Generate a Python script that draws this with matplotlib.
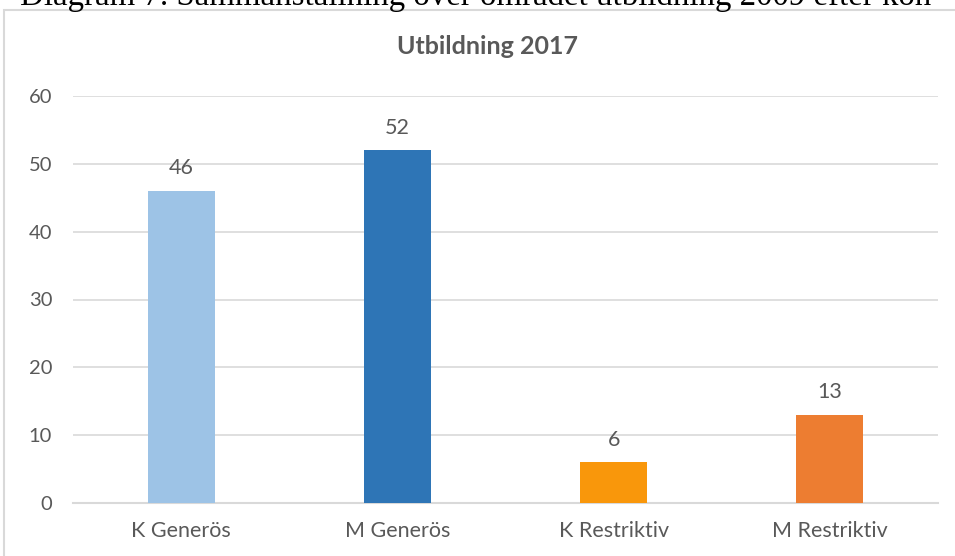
import matplotlib
matplotlib.use("Agg")
import matplotlib.pyplot as plt
from matplotlib.patches import Rectangle

categories = ["K Generös", "M Generös", "K Restriktiv", "M Restriktiv"]
values = [46, 52, 6, 13]
colors = ["#9DC3E6", "#2E75B6", "#F9970B", "#ED7D31"]
yticks = [0, 10, 20, 30, 40, 50, 60]
title = "Utbildning 2017"
caption = "Diagram 7. Sammanställning över området utbildning 2009 efter kön"

W, H = 955, 556
fig = plt.figure(figsize=(W / 100, H / 100), dpi=100)
ax = fig.add_axes([73 / W, 53 / H, (938 - 73) / W, (503 - 96) / H])

x = list(range(len(categories)))
bars = ax.bar(x, values, width=0.31, color=colors, zorder=3)
ax.set_xlim(-0.5, len(categories) - 0.5)
ax.set_ylim(0, 60)
ax.set_yticks(yticks)
ax.set_xticks(x)
ax.set_xticklabels(categories)

txtc = "#595959"
font = "Lato"
for lbl in ax.get_yticklabels():
    lbl.set_fontfamily(font)
    lbl.set_fontsize(14.5)
    lbl.set_color(txtc)
for lbl in ax.get_xticklabels():
    lbl.set_fontfamily(font)
    lbl.set_fontsize(15.5)
    lbl.set_color(txtc)
ax.tick_params(axis="y", length=0, pad=15)
ax.tick_params(axis="x", length=0, pad=13)
ax.grid(axis="y", color="#D9D9D9", linewidth=1.2, zorder=0)
for s in ["top", "right", "left"]:
    ax.spines[s].set_visible(False)
ax.spines["bottom"].set_color("#D9D9D9")
ax.spines["bottom"].set_linewidth(1.5)

for xi, v in zip(x, values):
    ax.annotate(str(v), (xi, v), xytext=(0, 9), textcoords="offset points",
                ha="center", va="bottom", fontsize=15.5, color=txtc, family=font)

fig.text(487 / W, 1 - 47 / H, title, ha="center", va="center", fontsize=18,
         fontweight="bold", color=txtc, family=font)

fig.text(476 / W, 1 - 5 / H, caption, ha="center", va="baseline",
         fontsize=23.7, color="black", family="Liberation Serif")

fig.patches.append(Rectangle((4 / W, -0.1), 1.2, 1 - 10 / H + 0.1,
                             transform=fig.transFigure, fill=False,
                             edgecolor="#D9D9D9", linewidth=1.5, clip_on=False))

fig.savefig("out.png", dpi=100)
